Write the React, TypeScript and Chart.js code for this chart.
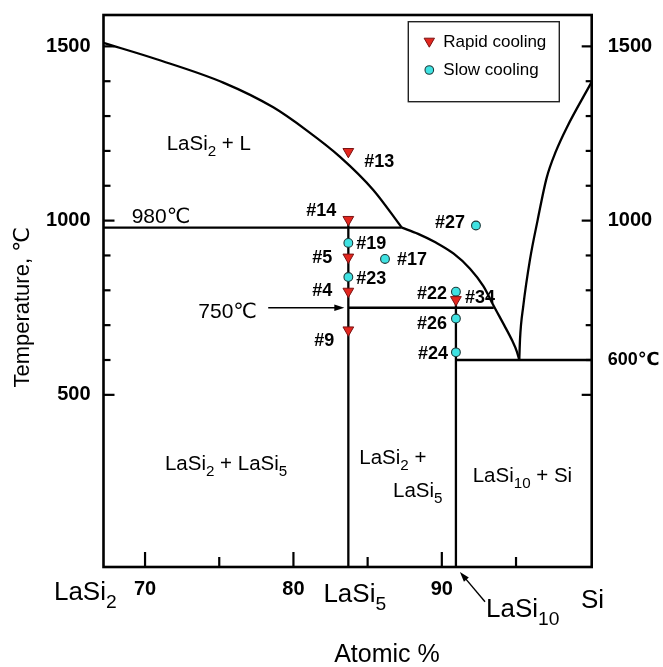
import React, { useEffect, useRef } from 'react';
import { Chart, registerables } from 'chart.js';

Chart.register(...registerables);

const FONT = '"Liberation Sans", Arial, "DejaVu Sans", sans-serif';

// ---- axis ranges and ticks ----
const X_MIN = 67.2;
const X_MAX = 100.1;
const T_MIN = 6;
const T_MAX = 1590;
const xTickValues = [70, 80, 90];
const xMinorTickValues = [75, 85, 95];
const leftTickValues = [500, 1000, 1500];
const rightTickValues = [600, 1000, 1500];
const innerTickTemps = [500, 600, 700, 800, 900, 1000, 1100, 1200, 1300, 1400, 1500];

// ---- compositions (at.% Si) ----
const X_LASI5 = 83.7;
const X_LASI10 = 90.95;

// ---- sample points ----
const rapidIds = ['#13', '#14', '#5', '#4', '#9', '#34'];
const rapidX = [83.7, 83.7, 83.7, 83.7, 83.7, 90.95];
const rapidT = [1198, 1003, 895, 797, 686, 773];

const slowIds = ['#19', '#17', '#23', '#27', '#22', '#26', '#24'];
const slowX = [83.7, 86.17, 83.7, 92.3, 90.95, 90.95, 90.95];
const slowT = [936, 890, 838, 986, 796, 719, 622];

// ---- phase boundaries ----
const upperLiquidusX = [67.2, 70.78, 75.27, 78.64, 80.89, 83.14, 85.38, 87.3];
const upperLiquidusT = [1510, 1463, 1396, 1325, 1259, 1183, 1088, 980];
const lowerLiquidusX = [87.3, 88.4, 89.6, 90.8, 91.9, 92.8, 93.5, 94.2, 94.75, 95.05, 95.22];
const lowerLiquidusT = [980, 962, 937, 905, 862, 812, 755, 700, 655, 625, 600];
const siLiquidusX = [95.22, 95.27, 95.49, 95.94, 96.45, 97.06, 97.7, 98.41, 100.1];
const siLiquidusT = [600, 660, 755, 888, 1000, 1122, 1200, 1266, 1398];
const line980X = [67.2, 87.3];
const line980T = [980, 980];
const line750X = [83.7, 93.5];
const line750T = [750, 750];
const line600X = [90.95, 100.1];
const line600T = [600, 600];
const lasi5LineX = [83.7, 83.7];
const lasi5LineT = [6, 1000];
const lasi10LineX = [90.95, 90.95];
const lasi10LineT = [6, 796];

// ---- label placement (pixel offsets from each point: dx, dy, align) ----
const rapidLabelOffsets: [number, number, CanvasTextAlign][] = [
  [16, 10, 'left'],
  [-12, -9, 'right'],
  [-16, 1, 'right'],
  [-16, 0, 'right'],
  [-14, 11, 'right'],
  [9, -2, 'left'],
];
const slowLabelOffsets: [number, number, CanvasTextAlign][] = [
  [8, 1, 'left'],
  [12, 1, 'left'],
  [8, 2, 'left'],
  [-11, -2, 'right'],
  [-9, 2, 'right'],
  [-9, 6, 'right'],
  [-8, 2, 'right'],
];

type Part = [string, boolean];
// region labels: parts, x (at.%), T (°C), size
const regionLabels: { parts: Part[]; x: number; t: number; size: number }[] = [
  { parts: [['LaSi', false], ['2', true], [' + L', false]], x: 71.46, t: 1223, size: 20.5 },
  { parts: [['LaSi', false], ['2', true], [' + LaSi', false], ['5', true]], x: 71.34, t: 304, size: 20.5 },
  { parts: [['LaSi', false], ['2', true], [' +', false]], x: 84.44, t: 322, size: 20.5 },
  { parts: [['LaSi', false], ['5', true]], x: 86.71, t: 227, size: 20.5 },
  { parts: [['LaSi', false], ['10', true], [' + Si', false]], x: 92.08, t: 270, size: 20.5 },
  { parts: [['980℃', false]], x: 69.1, t: 1016, size: 21 },
  { parts: [['750℃', false]], x: 73.59, t: 741, size: 21 },
];
// composition labels below the axis: parts, x (at.%), dy below axis
const compLabels: { parts: Part[]; x: number; dy: number }[] = [
  { parts: [['LaSi', false], ['2', true]], x: 63.86, dy: 24 },
  { parts: [['LaSi', false], ['5', true]], x: 82.02, dy: 26 },
  { parts: [['LaSi', false], ['10', true]], x: 92.98, dy: 41 },
  { parts: [['Si', false]], x: 99.38, dy: 32 },
];

const RED = '#e3261e';
const RED_EDGE = '#7a1212';
const CYAN = '#3fe2e2';
const CYAN_EDGE = '#1c3a3a';

function drawRich(
  ctx: CanvasRenderingContext2D,
  parts: Part[],
  x: number,
  y: number,
  size: number,
  align: 'left' | 'center' | 'right' = 'left'
) {
  const subSize = size * 0.74;
  const widths = parts.map(([t, sub]) => {
    ctx.font = `${sub ? subSize : size}px ${FONT}`;
    return ctx.measureText(t).width;
  });
  const total = widths.reduce((a, b) => a + b, 0);
  let cx = align === 'left' ? x : align === 'right' ? x - total : x - total / 2;
  const base = y + size * 0.358;
  ctx.textAlign = 'left';
  ctx.textBaseline = 'alphabetic';
  parts.forEach(([t, sub], i) => {
    ctx.font = `${sub ? subSize : size}px ${FONT}`;
    ctx.fillText(t, cx, sub ? base + size * 0.28 : base);
    cx += widths[i];
  });
}

function arrow(ctx: CanvasRenderingContext2D, x1: number, y1: number, x2: number, y2: number) {
  const ang = Math.atan2(y2 - y1, x2 - x1);
  const hl = 10;
  const hw = 3.2;
  ctx.beginPath();
  ctx.moveTo(x1, y1);
  ctx.lineTo(x2 - Math.cos(ang) * hl * 0.8, y2 - Math.sin(ang) * hl * 0.8);
  ctx.lineWidth = 1.4;
  ctx.stroke();
  ctx.beginPath();
  ctx.moveTo(x2, y2);
  ctx.lineTo(x2 - Math.cos(ang) * hl - Math.sin(ang) * hw, y2 - Math.sin(ang) * hl + Math.cos(ang) * hw);
  ctx.lineTo(x2 - Math.cos(ang) * hl + Math.sin(ang) * hw, y2 - Math.sin(ang) * hl - Math.cos(ang) * hw);
  ctx.closePath();
  ctx.fill();
}

function tri(ctx: CanvasRenderingContext2D, x: number, y: number, r: number) {
  ctx.beginPath();
  ctx.moveTo(x, y + r);
  ctx.lineTo(x - r * Math.sin(Math.PI / 3), y - r / 2);
  ctx.lineTo(x + r * Math.sin(Math.PI / 3), y - r / 2);
  ctx.closePath();
  ctx.fillStyle = RED;
  ctx.fill();
  ctx.strokeStyle = RED_EDGE;
  ctx.lineWidth = 1;
  ctx.stroke();
}

const overlayPlugin = {
  id: 'phaseOverlay',
  afterDraw(chart: any) {
    const { ctx, chartArea: a, scales } = chart;
    const X = (v: number) => scales.x.getPixelForValue(v);
    const Y = (v: number) => scales.y.getPixelForValue(v);
    ctx.save();
    ctx.strokeStyle = '#000';
    ctx.fillStyle = '#000';

    // frame
    ctx.lineWidth = 2.6;
    ctx.strokeRect(a.left, a.top, a.right - a.left, a.bottom - a.top);

    // inner ticks
    ctx.lineWidth = 2.2;
    const seg = (x1: number, y1: number, x2: number, y2: number) => {
      ctx.beginPath();
      ctx.moveTo(x1, y1);
      ctx.lineTo(x2, y2);
      ctx.stroke();
    };
    innerTickTemps.forEach((t) => {
      const major = leftTickValues.includes(t);
      seg(a.left, Y(t), a.left + (major ? 11 : 7), Y(t));
      seg(a.right - (major ? 10 : 6), Y(t), a.right, Y(t));
    });
    xTickValues.forEach((v) => seg(X(v), a.bottom, X(v), a.bottom - 15));
    xMinorTickValues.forEach((v) => seg(X(v), a.bottom, X(v), a.bottom - 10));

    // sample labels
    ctx.font = `bold 18px ${FONT}`;
    ctx.textBaseline = 'middle';
    ctx.fillStyle = '#000';
    rapidIds.forEach((id, i) => {
      const [dx, dy, al] = rapidLabelOffsets[i];
      ctx.textAlign = al;
      ctx.fillText(id, X(rapidX[i]) + dx, Y(rapidT[i]) + dy);
    });
    slowIds.forEach((id, i) => {
      const [dx, dy, al] = slowLabelOffsets[i];
      ctx.textAlign = al;
      ctx.fillText(id, X(slowX[i]) + dx, Y(slowT[i]) + dy);
    });

    // region labels
    regionLabels.forEach((r) => drawRich(ctx, r.parts, X(r.x), Y(r.t), r.size, 'left'));

    // 750 arrow
    arrow(ctx, X(78.3), Y(750), X(X_LASI5) - 4, Y(750));

    // composition labels under axis
    compLabels.forEach((c) => drawRich(ctx, c.parts, X(c.x), a.bottom + c.dy, 26, 'left'));
    arrow(ctx, X(92.91), a.bottom + 34.7, X(X_LASI10) + 4, a.bottom + 5);

    // axis titles
    ctx.font = `25px ${FONT}`;
    ctx.textAlign = 'center';
    ctx.textBaseline = 'middle';
    ctx.fillText('Atomic %', X(86.3), a.bottom + 88);
    ctx.save();
    ctx.translate(a.left - 81, Y(751));
    ctx.rotate(-Math.PI / 2);
    ctx.font = `22px ${FONT}`;
    ctx.fillText('Temperature, ℃', 0, 0);
    ctx.restore();

    // legend
    const bx = a.right - 183.4;
    const by = a.top + 6.7;
    ctx.lineWidth = 1.4;
    ctx.strokeStyle = '#222';
    ctx.strokeRect(bx, by, 151, 80);
    tri(ctx, bx + 21, by + 19.5, 6);
    ctx.beginPath();
    ctx.arc(bx + 21, by + 48.3, 4.3, 0, Math.PI * 2);
    ctx.fillStyle = CYAN;
    ctx.fill();
    ctx.strokeStyle = CYAN_EDGE;
    ctx.lineWidth = 1.1;
    ctx.stroke();
    ctx.fillStyle = '#000';
    ctx.font = `17px ${FONT}`;
    ctx.textAlign = 'left';
    ctx.textBaseline = 'middle';
    ctx.fillText('Rapid cooling', bx + 35, by + 21);
    ctx.fillText('Slow cooling', bx + 35, by + 48.3);

    ctx.restore();
  },
};

const pts = (xs: number[], ts: number[]) => xs.map((x, i) => ({ x, y: ts[i] }));

function lineDs(xs: number[], ts: number[], curved = false) {
  return {
    type: 'line' as const,
    data: pts(xs, ts),
    borderColor: '#000',
    borderWidth: 2.3,
    pointRadius: 0,
    showLine: true,
    fill: false,
    cubicInterpolationMode: curved ? ('monotone' as const) : ('default' as const),
    tension: 0,
    order: 2,
  };
}

export default function App() {
  const ref = useRef<HTMLCanvasElement | null>(null);
  useEffect(() => {
    if (!ref.current) return;
    const tickFont = { family: FONT, size: 20, weight: 'bold' as const };
    const noPadV = (s: any, w: number) => {
      s.width = w;
      s.paddingTop = 0;
      s.paddingBottom = 0;
    };
    const chart = new Chart(ref.current, {
      type: 'scatter',
      data: {
        datasets: [
          {
            label: 'Rapid cooling',
            data: pts(rapidX, rapidT),
            pointStyle: 'triangle',
            rotation: 180,
            pointRadius: 6.2,
            backgroundColor: RED,
            borderColor: RED_EDGE,
            borderWidth: 1,
            order: 0,
          },
          {
            label: 'Slow cooling',
            data: pts(slowX, slowT),
            pointStyle: 'circle',
            pointRadius: 4.4,
            backgroundColor: CYAN,
            borderColor: CYAN_EDGE,
            borderWidth: 1.1,
            order: 0,
          },
          lineDs(upperLiquidusX, upperLiquidusT, true),
          lineDs(lowerLiquidusX, lowerLiquidusT, true),
          lineDs(siLiquidusX, siLiquidusT, true),
          lineDs(line980X, line980T),
          lineDs(line750X, line750T),
          lineDs(line600X, line600T),
          lineDs(lasi5LineX, lasi5LineT),
          lineDs(lasi10LineX, lasi10LineT),
        ] as any,
      },
      options: {
        responsive: false,
        animation: false,
        devicePixelRatio: 1,
        layout: { padding: { top: 15, left: 0, right: 0, bottom: 0 } },
        plugins: { legend: { display: false }, tooltip: { enabled: false } },
        scales: {
          x: {
            type: 'linear',
            position: 'bottom',
            min: X_MIN,
            max: X_MAX,
            grid: { display: false, drawTicks: false },
            border: { display: false },
            afterBuildTicks: (s: any) => {
              s.ticks = xTickValues.map((v) => ({ value: v }));
            },
            afterFit: (s: any) => {
              s.height = 100;
              s.paddingLeft = 0;
              s.paddingRight = 0;
            },
            ticks: {
              font: tickFont,
              color: '#000',
              padding: 10,
              maxRotation: 0,
              autoSkip: false,
              callback: (v: any) => String(v),
            },
          },
          y: {
            type: 'linear',
            position: 'left',
            min: T_MIN,
            max: T_MAX,
            grid: { display: false, drawTicks: false },
            border: { display: false },
            afterBuildTicks: (s: any) => {
              s.ticks = leftTickValues.map((v) => ({ value: v }));
            },
            afterFit: (s: any) => noPadV(s, 103.5),
            ticks: {
              font: tickFont,
              color: '#000',
              padding: 13,
              autoSkip: false,
              callback: (v: any) => String(v),
            },
          },
          y2: {
            type: 'linear',
            position: 'right',
            min: T_MIN,
            max: T_MAX,
            grid: { display: false, drawTicks: false },
            border: { display: false },
            afterBuildTicks: (s: any) => {
              s.ticks = rightTickValues.map((v) => ({ value: v }));
            },
            afterFit: (s: any) => noPadV(s, 71.3),
            ticks: {
              font: (c: any) =>
                c.tick && c.tick.value === 600
                  ? { family: FONT, size: 18, weight: 'bold' }
                  : tickFont,
              color: '#000',
              padding: 16,
              autoSkip: false,
              callback: (v: any) => (v === 600 ? '600℃' : String(v)),
            },
          },
        },
      } as any,
      plugins: [overlayPlugin],
    });
    return () => chart.destroy();
  }, []);
  return (
    <div style={{ position: 'absolute', left: 0, top: 0, width: 663, height: 667, background: '#fff' }}>
      <canvas ref={ref} width={663} height={667} style={{ display: 'block' }} />
    </div>
  );
}
